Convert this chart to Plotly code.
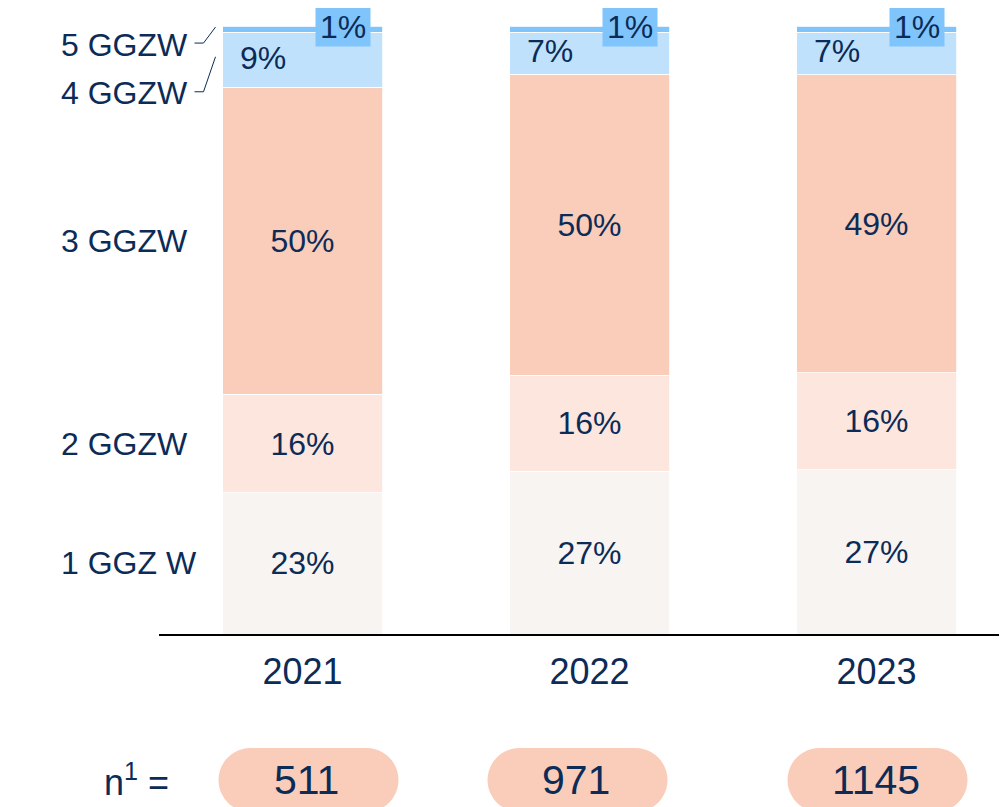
import plotly.graph_objects as go
import numpy as np

# ---------------- data ----------------
years = ["2021", "2022", "2023"]
segment_names = ["1 GGZ W", "2 GGZW", "3 GGZW", "4 GGZW", "5 GGZW"]
share_1 = [23, 27, 27]
share_2 = [16, 16, 16]
share_3 = [50, 50, 49]
share_4 = [9, 7, 7]
share_5 = [1, 1, 1]
n_values = [511, 971, 1145]

# ---------------- style ----------------
FONT = "Liberation Sans, Arial, sans-serif"
NAVY = "#0c2b57"
colors = ["#f8f4f1", "#fde6de", "#f9cdb9", "#bfe1fc", "#80c4fc"]
pill_color = "#f9cdb9"
pill_xshift = [6, -12, 1]

series = [share_1, share_2, share_3, share_4, share_5]
arr = np.array(series, dtype=float)            # shape (5, 3)
totals = arr.sum(axis=0)
norm = arr / totals * 100
cum_top = np.cumsum(norm, axis=0)
cum_bot = cum_top - norm
centers = (cum_top + cum_bot) / 2

fig = go.Figure()
for i, (name, vals) in enumerate(zip(segment_names, series)):
    inside = i < 3
    fig.add_trace(go.Bar(
        x=years, y=vals, name=name,
        marker=dict(color=colors[i], line=dict(color="white", width=0.8)),
        text=[f"{v}%" for v in vals] if inside else None,
        textposition="inside" if inside else "none",
        insidetextanchor="middle",
        textangle=0,
        textfont=dict(family=FONT, size=32, color=NAVY),
        hoverinfo="skip",
    ))

annotations = []
shapes = []

# segment-4 labels (left side of bar)
for j, yr in enumerate(years):
    annotations.append(dict(
        x=j, y=float(centers[3, j]), xref="x", yref="y", text=f"{share_4[j]}%",
        showarrow=False, xshift=-40, yshift=2, yanchor="middle",
        font=dict(family=FONT, size=32, color=NAVY)))
    # segment-5 labels in boxes
    annotations.append(dict(
        x=j, y=float(cum_top[4, j]), xref="x", yref="y", text=f"{share_5[j]}%",
        showarrow=False, xshift=40, yshift=-1, width=54, height=38,
        bgcolor=colors[4], borderpad=0, yanchor="middle",
        font=dict(family=FONT, size=32, color=NAVY)))

# category labels on the left, aligned to first bar
label_yshift = [0, 0, 0, -33, -16]
for i, name in enumerate(segment_names):
    annotations.append(dict(
        x=0, y=float(centers[i, 0]), xref="x", yref="y", text=name,
        showarrow=False, xanchor="left", yanchor="middle",
        xshift=-244, yshift=label_yshift[i],
        font=dict(family=FONT, size=32, color=NAVY)))

# leader lines for 4 and 5
shapes.append(dict(type="path", xref="x", yref="y", xsizemode="pixel", ysizemode="pixel",
                   xanchor=0, yanchor=float(centers[4, 0]),
                   path="M -108,-14 L -99,-14 L -87,2",
                   line=dict(color=NAVY, width=1)))
shapes.append(dict(type="path", xref="x", yref="y", xsizemode="pixel", ysizemode="pixel",
                   xanchor=0, yanchor=float(centers[3, 0]),
                   path="M -108,-32 L -99,-32 L -87,3",
                   line=dict(color=NAVY, width=1)))

# n pills
PILL_Y = -0.2378
hw, hh = 90, 32
k = 0.5523 * hh


def pill_path(dx):
    pts = [
        ("M", [(-hw + hh, hh)]),
        ("L", [(hw - hh, hh)]),
        ("C", [(hw - hh + k, hh), (hw, k), (hw, 0)]),
        ("C", [(hw, -k), (hw - hh + k, -hh), (hw - hh, -hh)]),
        ("L", [(-hw + hh, -hh)]),
        ("C", [(-hw + hh - k, -hh), (-hw, -k), (-hw, 0)]),
        ("C", [(-hw, k), (-hw + hh - k, hh), (-hw + hh, hh)]),
    ]
    out = []
    for cmd, ps in pts:
        out.append(cmd + " " + " ".join(f"{x + dx:.2f},{y:.2f}" for x, y in ps))
    return " ".join(out) + " Z"


for j, yr in enumerate(years):
    shapes.append(dict(type="path", xref="x", yref="paper", xsizemode="pixel", ysizemode="pixel",
                       xanchor=j, yanchor=PILL_Y, path=pill_path(pill_xshift[j]),
                       fillcolor=pill_color, line=dict(width=0), layer="below"))
    annotations.append(dict(
        x=j, y=PILL_Y, xref="x", yref="paper", text=str(n_values[j]),
        showarrow=False, xshift=pill_xshift[j] - 2, yanchor="middle", xanchor="center",
        font=dict(family=FONT, size=41, color=NAVY)))

annotations.append(dict(
    x=0, y=PILL_Y, xref="x", yref="paper", text="n<sup>1</sup> =",
    showarrow=False, xanchor="right", yanchor="middle", xshift=-132,
    font=dict(family=FONT, size=36, color=NAVY)))

fig.update_layout(
    barmode="stack", barnorm="percent", bargap=0.4425,
    width=999, height=799, autosize=False,
    margin=dict(l=151, r=0, t=12, b=173, pad=0),
    plot_bgcolor="white", paper_bgcolor="white",
    showlegend=False,
    annotations=annotations, shapes=shapes,
    font=dict(family=FONT, color=NAVY),
    xaxis=dict(type="category", range=[-0.5, -0.5 + 848 / 287], showline=True,
               linecolor="black", linewidth=2,
               ticks="", showgrid=False, zeroline=False,
               tickfont=dict(family=FONT, size=36, color=NAVY), ticklabelstandoff=5),
    yaxis=dict(range=[0, 100 * 614 / 608], visible=False, showgrid=False, zeroline=False),
)

fig.write_html("out.html")
